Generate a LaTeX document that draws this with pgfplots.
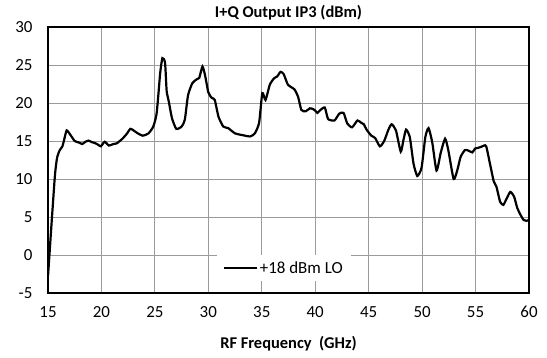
\documentclass[border=0pt]{standalone}
\usepackage{pgfplots}
\pgfplotsset{compat=1.18}
\usepackage{fontspec}
\setmainfont{Carlito}
\usetikzlibrary{calc}
\definecolor{gridgray}{RGB}{155,155,155}
\begin{document}
\begin{tikzpicture}
\begin{axis}[
  scale only axis,
  width=481bp, height=266bp,
  xmin=15, xmax=60, ymin=-5, ymax=30,
  xtick={15,20,...,60}, ytick={-5,0,...,30},
  major tick length=0pt,
  grid=major,
  grid style={gridgray, line width=0.8bp},
  axis line style={black, line width=1.8bp},
  /pgf/number format/assume math mode=true,
  tick label style={font=\fontsize{17}{19}\selectfont},
  xticklabel style={yshift=-10bp},
  yticklabel style={xshift=-12bp},
  title={\textbf{I+Q Output IP3 (dBm)}},
  title style={font=\fontsize{16.5}{18}\selectfont, at={(0.5,1)}, anchor=south, yshift=-3bp},
  xlabel={\textbf{RF Frequency~~(GHz)}},
  xlabel style={font=\fontsize{16.5}{18}\selectfont, yshift=-11bp},
  legend style={at={(0.49,0.094)}, anchor=center, draw=none, fill=white,
    font=\fontsize{17}{19}\selectfont, inner xsep=6bp, inner ysep=4bp},
  legend image code/.code={\draw[#1, line width=2.2bp] (0bp,0bp) -- (33bp,0bp);},
]
\addplot[black, line width=2.2bp, smooth, tension=0.35] coordinates {
(15.0,-2.8) (15.35,4.5) (15.65,10.5) (15.85,12.8) (16.1,13.8) (16.35,14.3)
(16.55,15.4) (16.75,16.4) (17.05,15.9) (17.5,15.0) (17.9,14.8) (18.2,14.6)
(18.5,14.9) (18.8,15.05) (19.1,14.85) (19.45,14.7) (19.7,14.5) (19.95,14.3)
(20.3,14.9) (20.7,14.4) (21.1,14.6) (21.45,14.7) (22.0,15.35) (22.4,16.0)
(22.7,16.6) (23.0,16.4) (23.35,16.05) (23.85,15.7) (24.4,16.0) (24.85,16.9)
(25.15,18.5) (25.35,21.5) (25.5,24.0) (25.7,25.9) (25.95,25.3) (26.1,21.6)
(26.3,20.2) (26.6,18.0) (27.0,16.6) (27.5,16.9) (27.8,17.8) (28.1,21.0)
(28.5,22.6) (28.9,23.1) (29.15,23.3) (29.45,24.8) (29.7,23.6) (30.0,21.4)
(30.3,20.7) (30.6,20.4) (30.95,18.2) (31.4,16.9) (31.85,16.7) (32.5,16.0)
(33.1,15.8) (33.9,15.6) (34.35,16.0) (34.75,17.4) (35.05,21.3) (35.35,20.4)
(35.75,22.4) (36.15,23.25) (36.45,23.5) (36.75,24.1) (37.05,23.8) (37.45,22.4)
(38.05,21.8) (38.4,20.8) (38.7,19.1) (39.1,18.9) (39.5,19.3) (39.8,19.2)
(40.0,19.0) (40.2,18.7) (40.5,19.1) (40.9,19.4) (41.2,17.9) (41.8,17.7)
(42.25,18.6) (42.65,18.7) (43.0,17.3) (43.45,16.8) (43.95,17.7) (44.3,17.4)
(44.55,17.2) (44.8,16.5) (45.25,15.7) (45.6,15.4) (46.05,14.3) (46.45,15.0)
(46.85,16.5) (47.15,17.2) (47.55,16.4) (48.0,13.6) (48.25,15.1) (48.5,16.5)
(48.85,15.5) (49.2,12.0) (49.55,10.4) (49.95,11.5) (50.3,15.5) (50.6,16.7)
(50.95,14.8) (51.35,11.1) (51.75,13.5) (52.15,15.3) (52.45,13.8) (52.95,10.0)
(53.3,11.2) (53.6,12.9) (54.0,13.8) (54.3,13.75) (54.7,13.5) (54.95,14.0)
(55.25,14.1) (55.55,14.25) (55.8,14.4) (56.0,14.3) (56.35,12.0) (56.7,9.7)
(56.95,9.0) (57.3,7.0) (57.6,6.6) (57.9,7.4) (58.25,8.3) (58.6,7.7)
(58.9,6.2) (59.2,5.3) (59.5,4.6) (59.75,4.5) (60.0,4.6)
};
\addlegendentry{+18 dBm LO}
\end{axis}
\path ($(current axis.south west)+(-48bp,-65bp)$) rectangle ($(current axis.north east)+(18bp,27bp)$);
\end{tikzpicture}
\end{document}
